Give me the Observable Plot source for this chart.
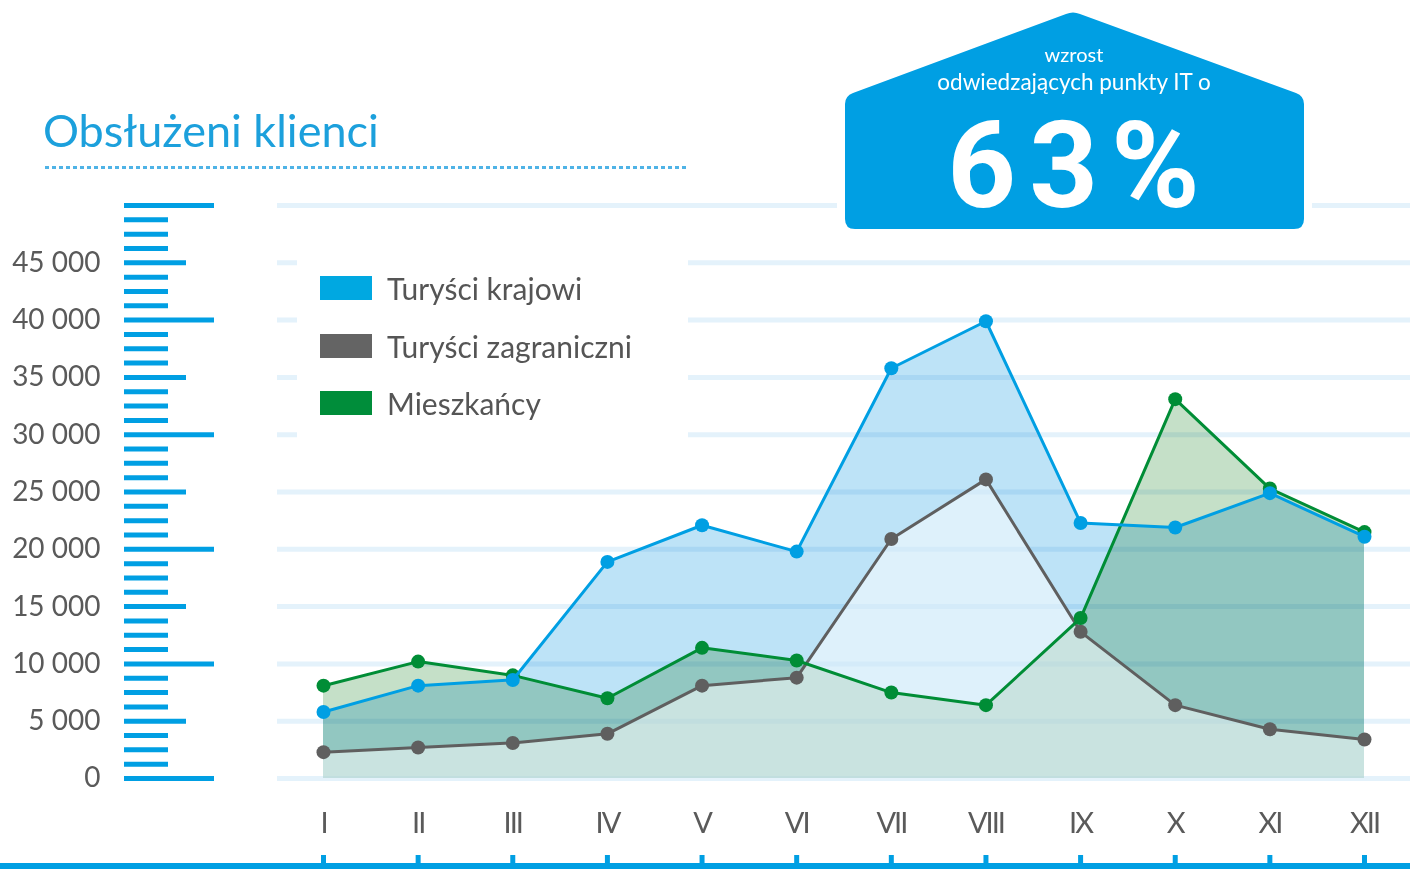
<!DOCTYPE html>
<html>
<head>
<meta charset="utf-8">
<script src="https://cdn.jsdelivr.net/npm/d3@7"></script>
<script src="https://cdn.jsdelivr.net/npm/@observablehq/plot@0.6"></script>
<style>
  html, body { margin: 0; padding: 0; background: #fff; }
  #wrap { position: relative; width: 1410px; height: 869px; overflow: hidden; font-family: Lato, "Open Sans", sans-serif; }
  #chart { position: absolute; left: 0; top: 0; }
  #title { position: absolute; left: 43px; top: 108px; font-size: 45px; line-height: 45px; color: #1ca0dc; white-space: nowrap; }
  #dots { position: absolute; left: 45px; top: 166px; width: 642px; height: 3px;
          background: repeating-linear-gradient(to right, #4fb3e6 0 4px, transparent 4px 7px); }
  #legend { position: absolute; left: 297px; top: 250px; width: 391px; height: 195px; background: #fff; }
  .row { position: absolute; left: 23px; height: 36px; display: flex; align-items: center; white-space: nowrap; }
  .sw { width: 52px; height: 24px; margin-right: 15px; }
  .lt { font-size: 30px; line-height: 36px; color: #555; }
  #badge { position: absolute; left: 0; top: 0; }
  #axisline { position: absolute; left: 0; top: 863px; width: 1410px; height: 6px; background: #009fe3; }
  #chart g[aria-label="x-axis tick label"] text { letter-spacing: -2px; }
</style>
</head>
<body>
<div id="wrap">
  <div id="chart"></div>
  <div id="axisline"></div>
  <div id="title"></div>
  <div id="dots"></div>
  <div id="legend"></div>
  <svg id="badge" width="1410" height="240"></svg>
</div>
<script>
const months = ["I", "II", "III", "IV", "V", "VI", "VII", "VIII", "IX", "X", "XI", "XII"];
const krajowi = [5800, 8100, 8600, 18900, 22100, 19800, 35800, 39900, 22300, 21900, 24900, 21100];
const zagraniczni = [2300, 2700, 3100, 3900, 8100, 8800, 20900, 26100, 12800, 6400, 4300, 3400];
const mieszkancy = [8100, 10200, 9000, 7000, 11400, 10300, 7500, 6400, 14000, 33100, 25300, 21500];
const seriesNames = ["Turyści krajowi", "Turyści zagraniczni", "Mieszkańcy"];
const seriesColors = ["#009fe3", "#5f5f5f", "#008d36"];
const legendColors = ["#00a8e1", "#646464", "#008d3a"];
const areaColors = ["#bde3f7", "#ffffff", "#c5e0c8"];
const yLabelTicks = [0, 5000, 10000, 15000, 20000, 25000, 30000, 35000, 40000, 45000];
const gridTicks = [0, 5000, 10000, 15000, 20000, 25000, 30000, 35000, 40000, 45000, 50000];
const bigTicks = [0, 10000, 20000, 30000, 40000, 50000];
const midTicks = [5000, 15000, 25000, 35000, 45000];
const smallTicks = d3.range(0, 50001, 1250).filter(v => v % 5000 !== 0);
const titleText = "Obsłużeni klienci";
const badgeLine1 = "wzrost";
const badgeLine2 = "odwiedzających punkty IT o";
const badgeValue = "63%";

const rows = vals => months.map((m, i) => ({month: m, value: vals[i]}));
const kRows = rows(krajowi), zRows = rows(zagraniczni), mRows = rows(mieszkancy);
const fmt = d => d === 0 ? "0" : d3.format(",")(d).replace(/,/g, " ");

const chart = Plot.plot({
  width: 1410,
  height: 869,
  marginLeft: 277,
  marginRight: 0,
  marginTop: 205,
  marginBottom: 91,
  x: {type: "point", domain: months, range: [323, 1364], padding: 0, round: false},
  y: {domain: [0, 50000]},
  style: {fontFamily: "Lato, 'Open Sans', sans-serif", background: "white", overflow: "visible"},
  marks: [
    Plot.ruleY(gridTicks, {y: d => d, stroke: "#e4f2fb", strokeWidth: 5}),
    Plot.areaY(kRows, {x: "month", y: "value", fill: areaColors[0], mixBlendMode: "multiply"}),
    Plot.areaY(mRows, {x: "month", y: "value", fill: areaColors[2], mixBlendMode: "multiply"}),
    Plot.areaY(zRows, {x: "month", y: "value", fill: areaColors[1], fillOpacity: 0.5}),
    Plot.line(zRows, {x: "month", y: "value", stroke: seriesColors[1], strokeWidth: 3}),
    Plot.dot(zRows, {x: "month", y: "value", r: 7, fill: seriesColors[1]}),
    Plot.line(mRows, {x: "month", y: "value", stroke: seriesColors[2], strokeWidth: 3}),
    Plot.dot(mRows, {x: "month", y: "value", r: 7, fill: seriesColors[2]}),
    Plot.line(kRows, {x: "month", y: "value", stroke: seriesColors[0], strokeWidth: 3}),
    Plot.dot(kRows, {x: "month", y: "value", r: 7, fill: seriesColors[0]}),
    Plot.axisX({anchor: "bottom", tickSize: 0, tickPadding: 34, fontSize: 29, fill: "#5a5a5a", label: null}),
    Plot.axisX({anchor: "bottom", tickSize: 11, dy: 77, stroke: "#009fe3", strokeWidth: 5, fill: "none", label: null}),
    Plot.axisY({anchor: "left", ticks: bigTicks, tickSize: 90, dx: -63, stroke: "#009fe3", strokeWidth: 5, fill: "none", label: null}),
    Plot.axisY({anchor: "left", ticks: midTicks, tickSize: 62, dx: -91, stroke: "#009fe3", strokeWidth: 5, fill: "none", label: null}),
    Plot.axisY({anchor: "left", ticks: smallTicks, tickSize: 44, dx: -109, stroke: "#009fe3", strokeWidth: 5, fill: "none", label: null}),
    Plot.axisY({anchor: "left", ticks: yLabelTicks, tickFormat: fmt, tickSize: 0, tickPadding: 177, fontSize: 28, fill: "#5a5a5a", label: null})
  ]
});
document.getElementById("chart").appendChild(chart);
// ensure blend mode for the first two areas
const areas = chart.querySelectorAll('g[aria-label="area"]');
if (areas[0]) areas[0].style.mixBlendMode = "multiply";
if (areas[1]) areas[1].style.mixBlendMode = "multiply";

document.getElementById("title").textContent = titleText;

// legend
const legend = d3.select("#legend");
const centers = [38, 96, 153];
seriesNames.forEach((name, i) => {
  const row = legend.append("div").attr("class", "row").style("top", (centers[i] - 18) + "px");
  row.append("div").attr("class", "sw").style("background", legendColors[i]);
  row.append("div").attr("class", "lt").text(name);
});

// badge
const badge = d3.select("#badge");
badge.append("path")
  .attr("d", "M855 229 Q845 229 845 219 L845 104 Q845 96 853 93 L1066 14 Q1073 11 1080 14 L1296 93 Q1304 96 1304 104 L1304 219 Q1304 229 1294 229 Z")
  .attr("fill", "#009fe3")
  .attr("stroke", "#fff")
  .attr("stroke-width", 16)
  .attr("paint-order", "stroke");
badge.append("text").attr("x", 1074).attr("y", 62).attr("text-anchor", "middle")
  .attr("fill", "#fff").attr("font-family", "Lato, sans-serif").attr("font-size", 20).text(badgeLine1);
badge.append("text").attr("x", 1074).attr("y", 90).attr("text-anchor", "middle")
  .attr("fill", "#fff").attr("font-family", "Lato, sans-serif").attr("font-size", 22.5).text(badgeLine2);
badge.append("text").attr("x", 1080).attr("y", 207).attr("text-anchor", "middle")
  .attr("fill", "#fff").attr("font-family", "Roboto, sans-serif").attr("font-weight", 700)
  .attr("font-size", 120).attr("letter-spacing", 13).text(badgeValue);
</script>
</body>
</html>
